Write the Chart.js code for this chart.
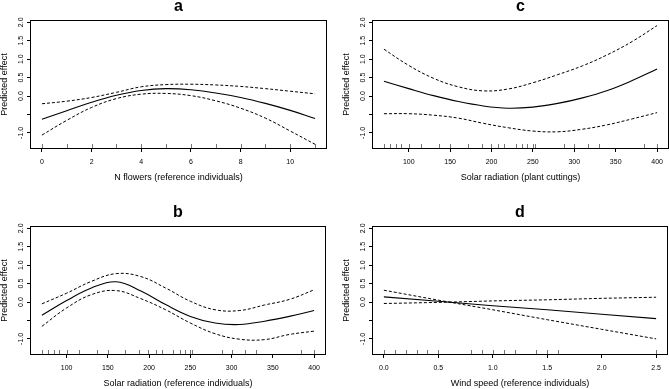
<!DOCTYPE html>
<html>
<head>
<meta charset="utf-8">
<script src="https://cdn.jsdelivr.net/npm/chart.js@4.4.0/dist/chart.umd.min.js"></script>
<style>
  html, body { margin: 0; padding: 0; background: #fff; }
  #wrap { position: relative; width: 669px; height: 389px; }
  #wrap canvas { position: absolute; left: 0; top: 0; }
</style>
</head>
<body>
<div id="wrap">
  <canvas id="pa" width="669" height="389"></canvas>
  <canvas id="pb" width="669" height="389"></canvas>
  <canvas id="pc" width="669" height="389"></canvas>
  <canvas id="pd" width="669" height="389"></canvas>
</div>
<script>
// a: N flowers (reference individuals)
const flowersX = [0, 1, 2, 3, 4, 5, 6, 7, 8, 9, 10, 11];
const flowersFit = [-0.63, -0.40, -0.17, 0.02, 0.15, 0.20, 0.17, 0.08, -0.04, -0.20, -0.39, -0.61];
const flowersUpper = [-0.21, -0.14, -0.04, 0.10, 0.25, 0.31, 0.32, 0.30, 0.26, 0.20, 0.13, 0.06];
const flowersLower = [-1.06, -0.66, -0.31, -0.07, 0.05, 0.07, 0.01, -0.13, -0.33, -0.60, -0.95, -1.31];
const flowersRug = [0, 1, 2, 3, 4, 5, 6, 7, 8, 9, 10, 11];
const flowersTicks = [0, 2, 4, 6, 8, 10];

// b: Solar radiation (reference individuals)
const solarX = [70, 100, 130, 160, 190, 220, 250, 280, 310, 340, 370, 400];
const refSolarFit = [-0.36, 0.04, 0.38, 0.55, 0.30, -0.07, -0.39, -0.57, -0.61, -0.52, -0.39, -0.23];
const refSolarUpper = [-0.05, 0.24, 0.56, 0.77, 0.69, 0.38, 0.02, -0.21, -0.23, -0.08, 0.07, 0.33];
const refSolarLower = [-0.66, -0.16, 0.20, 0.31, 0.09, -0.21, -0.57, -0.86, -1.01, -1.02, -0.88, -0.79];

// c: Solar radiation (plant cuttings)
const cutSolarFit = [0.40, 0.20, 0.01, -0.15, -0.27, -0.33, -0.30, -0.20, -0.05, 0.15, 0.42, 0.73];
const cutSolarUpper = [1.27, 0.83, 0.48, 0.25, 0.14, 0.19, 0.36, 0.58, 0.82, 1.12, 1.48, 1.91];
const cutSolarLower = [-0.48, -0.48, -0.52, -0.60, -0.74, -0.86, -0.95, -0.97, -0.90, -0.78, -0.62, -0.45];

const solarRug = [70, 77, 85, 91, 100, 115, 137, 150, 171, 188, 199, 208, 215, 229, 237, 243, 250, 252, 288, 300, 316, 330, 384, 400];
const solarTicks = [100, 150, 200, 250, 300, 350, 400];

// d: Wind speed (reference individuals)
const windX = [0, 0.5, 1, 1.5, 2, 2.5];
const windFit = [0.14, 0.02, -0.10, -0.21, -0.33, -0.45];
const windBandA = [0.32, 0.05, -0.21, -0.48, -0.74, -1.00];
const windBandB = [-0.04, -0.01, 0.03, 0.06, 0.10, 0.13];
const windRug = [0, 0.1, 0.2, 0.3, 0.4, 0.5, 0.8, 0.9, 1.0, 1.1, 1.2, 1.4, 1.5, 1.6, 2.5];
const windTicks = [0, 0.5, 1, 1.5, 2, 2.5];

const yTicks = [-1, -0.5, 0, 0.5, 1, 1.5, 2];
const yTickLabels = ['-1.0', '', '0.0', '0.5', '1.0', '1.5', '2.0'];

const FONT = '"Liberation Sans", Arial, Helvetica, sans-serif';
const W = 669, H = 389;

const pts = (xs, ys) => xs.map((x, i) => ({x: x, y: ys[i]}));

// box, rug, rotated y labels and panel letter
const panelDecor = {
  id: 'panelDecor',
  afterDraw(chart, args, opts) {
    const {ctx, chartArea: ca, scales: {x, y}} = chart;
    ctx.save();
    ctx.strokeStyle = '#000';
    ctx.lineWidth = 1;
    ctx.strokeRect(Math.round(ca.left) - 0.5, Math.round(ca.top) - 0.5,
      Math.round(ca.right - ca.left) + 1, Math.round(ca.bottom - ca.top) + 1);

    ctx.strokeStyle = '#666';
    ctx.lineWidth = 0.9;
    opts.rug.forEach(v => {
      const px = Math.round(x.getPixelForValue(v)) + 0.5;
      ctx.beginPath();
      ctx.moveTo(px, ca.bottom);
      ctx.lineTo(px, ca.bottom - 4);
      ctx.stroke();
    });

    ctx.fillStyle = '#000';
    ctx.font = '7px ' + FONT;
    ctx.textAlign = 'center';
    ctx.textBaseline = 'middle';
    yTicks.forEach((v, i) => {
      if (!yTickLabels[i]) return;
      ctx.save();
      ctx.translate(ca.left - 10, y.getPixelForValue(v));
      ctx.rotate(-Math.PI / 2);
      ctx.fillText(yTickLabels[i], 0, 0);
      ctx.restore();
    });

    ctx.font = 'bold 16px ' + FONT;
    ctx.textBaseline = 'alphabetic';
    ctx.fillText(opts.letter, (ca.left + ca.right) / 2, ca.top - 10);
    ctx.restore();
  }
};

function makePanel(id, p) {
  const solid = {data: pts(p.xs, p.fit), borderColor: '#000', borderWidth: 1.1, pointRadius: 0, tension: p.tension};
  const dashA = {data: pts(p.xs, p.upper), borderColor: '#000', borderWidth: 1, borderDash: [3, 2], pointRadius: 0, tension: p.tension};
  const dashB = {data: pts(p.xs, p.lower), borderColor: '#000', borderWidth: 1, borderDash: [3, 2], pointRadius: 0, tension: p.tension};
  new Chart(document.getElementById(id), {
    type: 'line',
    data: {datasets: [solid, dashA, dashB]},
    options: {
      responsive: false,
      animation: false,
      events: [],
      layout: {padding: {left: p.box[0] - 31, top: p.box[2], right: W - p.box[1], bottom: H - p.box[3] - 34}},
      plugins: {
        legend: {display: false},
        tooltip: {enabled: false},
        panelDecor: {letter: p.letter, rug: p.rug}
      },
      scales: {
        x: {
          type: 'linear',
          min: p.xMin,
          max: p.xMax,
          afterBuildTicks: s => { s.ticks = p.xTicks.map(v => ({value: v})); },
          afterFit: s => { s.height = 34; s.paddingLeft = 0; s.paddingRight = 0; },
          ticks: {
            color: '#000',
            font: {family: FONT, size: 7},
            padding: 6,
            maxRotation: 0,
            autoSkip: false,
            callback: v => p.fmt(v)
          },
          grid: {display: true, drawOnChartArea: false, drawTicks: true, tickLength: 4, color: '#000', lineWidth: 1},
          border: {display: false},
          title: {display: true, text: p.xTitle, color: '#000', font: {family: FONT, size: 9, lineHeight: 1}, padding: {top: 0, bottom: 0}}
        },
        y: {
          type: 'linear',
          min: -1.41,
          max: 2.035,
          afterBuildTicks: s => { s.ticks = yTicks.map(v => ({value: v})); },
          afterFit: s => { s.width = 31; s.paddingTop = 0; s.paddingBottom = 0; },
          ticks: {display: false},
          grid: {display: true, drawOnChartArea: false, drawTicks: true, tickLength: 4, color: '#000', lineWidth: 1},
          border: {display: false},
          title: {display: true, text: 'Predicted effect', color: '#000', font: {family: FONT, size: 9, lineHeight: 1}, padding: {top: 0, bottom: 0}}
        }
      }
    },
    plugins: [panelDecor]
  });
}

makePanel('pa', {
  letter: 'a', box: [31, 326, 21, 148],
  xs: flowersX, fit: flowersFit, upper: flowersUpper, lower: flowersLower, tension: 0.4,
  rug: flowersRug, xTicks: flowersTicks, xMin: -0.44, xMax: 11.44,
  fmt: v => String(v), xTitle: 'N flowers (reference individuals)'
});
makePanel('pb', {
  letter: 'b', box: [31, 325, 227, 354],
  xs: solarX, fit: refSolarFit, upper: refSolarUpper, lower: refSolarLower, tension: 0.4,
  rug: solarRug, xTicks: solarTicks, xMin: 56.8, xMax: 413.2,
  fmt: v => String(v), xTitle: 'Solar radiation (reference individuals)'
});
makePanel('pc', {
  letter: 'c', box: [373, 668, 21, 148],
  xs: solarX, fit: cutSolarFit, upper: cutSolarUpper, lower: cutSolarLower, tension: 0.4,
  rug: solarRug, xTicks: solarTicks, xMin: 56.8, xMax: 413.2,
  fmt: v => String(v), xTitle: 'Solar radiation (plant cuttings)'
});
makePanel('pd', {
  letter: 'd', box: [373, 667, 227, 354],
  xs: windX, fit: windFit, upper: windBandA, lower: windBandB, tension: 0,
  rug: windRug, xTicks: windTicks, xMin: -0.1, xMax: 2.6,
  fmt: v => v.toFixed(1), xTitle: 'Wind speed (reference individuals)'
});
</script>
</body>
</html>
